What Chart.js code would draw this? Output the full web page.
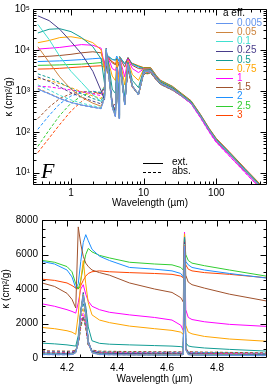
<!DOCTYPE html>
<html><head><meta charset="utf-8">
<script src="https://cdn.jsdelivr.net/npm/chart.js@4.4.1/dist/chart.umd.min.js"></script>
<style>
html,body{margin:0;padding:0;background:#fff;width:274px;height:387px;overflow:hidden}
#c1{position:absolute;left:0;top:0;width:274px;height:210px}
#c2{position:absolute;left:0;top:210px;width:274px;height:177px}
</style></head><body>
<canvas id="c1" width="274" height="210"></canvas>
<canvas id="c2" width="274" height="177"></canvas>
<script>
// ---------- data ----------
const sizeLabels = ['0.005','0.05','0.1','0.25','0.5','0.75','1','1.5','2','2.5','3'];
const colors = ['#6495ED','#CD853F','#40E0D0','#483D8B','#119C94','#FFA500','#FF00FF','#A0522D','#1E90FF','#32CD32','#FF4500'];

// top panel: wavelength grid (µm)
const waveTop = [0.35,0.5,0.7,1.0,1.4,2.0,2.6,2.9,3.05,3.3,3.7,4.1,4.27,4.6,4.67,5.5,6.1,7.0,8.5,10,12.5,15,17,25,33,45,60,80,100,150,250,400,500];

// extinction (solid)
const ext_0005 = [1100,850,650,520,450,400,370,700,10000,2500,400,230,3600,210,6000,450,4500,1300,800,2900,3100,2000,1550,1100,780,510,245,108,62,29.5,11.3,4.7,3.1];
const ext_005  = [12000,5000,2200,1100,700,500,420,680,10000,2550,410,235,3650,215,6100,455,4550,1310,805,2920,3120,2010,1560,1110,785,512,246,109,62,29.6,11.3,4.7,3.1];
const ext_01   = [42000,18000,7000,3000,1600,800,550,650,10500,2800,450,250,3700,225,6200,460,4600,1320,810,2950,3150,2030,1570,1120,790,515,248,110,62.5,29.8,11.4,4.75,3.1];
const ext_025  = [68000,52000,32000,16000,8000,3000,1000,600,11000,3200,520,290,3800,250,6300,480,4700,1350,830,3000,3200,2050,1590,1140,800,520,250,111,63,30,11.5,4.8,3.2];
const ext_05   = [26000,32000,33000,28000,20000,12000,6000,1500,10000,4500,1100,860,3500,700,6200,700,5000,1800,1200,3200,3300,2100,1650,1180,820,530,255,112,63.5,30.2,11.6,4.8,3.2];
const ext_075  = [15000,17000,20000,21000,19000,15000,10000,3000,9000,5000,2300,1770,5600,1650,6500,1400,5500,2500,1800,3400,3400,2150,1700,1200,830,535,255,112,63,30,11.5,4.7,3.1];
const ext_1    = [10500,11000,11500,12500,13500,13000,11000,4000,8000,6000,3500,3140,4200,2250,6500,2200,6000,3500,2800,3400,3350,2150,1650,1150,780,490,230,100,56,26.5,10.2,4.2,2.8];
const ext_15   = [6800,7000,7300,7800,8500,9000,8500,4500,7500,6500,4800,4350,6000,3900,6500,3800,6500,4200,3500,3400,3400,2200,1700,1200,820,530,255,112,63,30,11.5,4.8,3.2];
const ext_2    = [5200,5300,5400,5600,5800,6100,6300,4200,7000,7000,5800,5600,7100,5100,6800,4500,6500,4500,3800,3500,3500,2250,1750,1230,840,545,262,115,65,31,11.9,4.95,3.3];
const ext_25   = [4200,4250,4300,4400,4500,4700,4900,4000,6500,6800,5900,5660,6300,5400,6900,4600,6200,4600,4000,3600,3600,2300,1780,1260,860,560,268,118,67,32,12.2,5.1,3.4];
const ext_3    = [3400,3450,3550,3700,3850,4000,4100,3800,6000,6000,5200,4570,4800,4850,6700,4600,6000,4700,4100,3700,3700,2350,1820,1290,880,575,275,121,69,33,12.6,5.3,3.5];

// absorption (dashed)
const abs_0005 = [1080,840,640,515,445,395,365,690,9900,2480,395,228,3580,208,5950,445,4480,1290,795,2890,3090,1990,1545,1095,778,509,244,108,62,29.5,11.3,4.7,3.1];
const abs_005  = [1150,870,660,525,450,400,370,690,9900,2500,400,230,3600,210,6000,450,4500,1300,800,2900,3100,2000,1550,1100,780,510,245,108,62,29.5,11.3,4.7,3.1];
const abs_01   = [1400,1050,780,600,500,430,390,700,9500,2600,420,240,3600,215,6000,450,4500,1300,800,2900,3100,2000,1550,1100,780,510,245,108,62,29.5,11.3,4.7,3.1];
const abs_025  = [2200,1700,1250,900,700,560,480,800,8500,2800,450,260,3500,230,5800,460,4400,1300,800,2850,3050,1980,1540,1100,780,510,245,108,62,29.5,11.3,4.7,3.1];
const abs_05   = [2600,2100,1600,1150,850,650,560,900,7000,2900,470,280,3000,250,5500,480,4200,1300,800,2800,3000,1950,1520,1090,775,508,244,108,62,29.5,11.3,4.7,3.1];
const abs_075  = [2000,1800,1500,1200,950,750,650,1000,6000,2900,480,300,2700,270,5300,490,4000,1280,800,2750,2950,1930,1500,1080,770,505,243,107,61,29,11.1,4.6,3.0];
const abs_1    = [1300,1250,1150,1050,950,850,760,1100,5000,2800,480,320,2400,290,5000,500,3800,1260,800,2700,2900,1900,1480,1060,750,480,225,98,55,26,10,4.15,2.75];
const abs_15   = [210,400,650,850,950,950,850,1200,4500,2700,480,450,2300,330,4800,520,3600,1250,800,2650,2850,1880,1470,1050,760,500,242,107,61,29,11.1,4.6,3.0];
const abs_2    = [115,250,480,750,900,980,900,1250,4200,2600,470,320,2500,310,4700,510,3500,1240,800,2600,2800,1860,1460,1045,755,498,241,107,61,29,11.1,4.6,3.0];
const abs_25   = [44,110,250,500,750,950,920,1300,4000,2500,460,330,2600,300,4600,500,3400,1230,800,2550,2750,1840,1450,1040,752,496,240,107,61,29,11.1,4.6,3.0];
const abs_3    = [31,70,150,320,550,850,900,1300,3800,2400,450,350,2700,290,4500,500,3300,1220,800,2500,2700,1820,1440,1035,750,495,240,107,61,29,11.1,4.6,3.0];

// bottom panel: wavelength grid (µm)
const waveBot = [4.10,4.15,4.20,4.22,4.235,4.245,4.255,4.265,4.275,4.285,4.30,4.33,4.37,4.45,4.55,4.62,4.655,4.665,4.670,4.675,4.685,4.70,4.75,4.85,5.00];

const bext_0005 = [200,195,190,200,300,900,2600,3600,2600,900,300,200,190,180,170,165,170,200,6500,500,200,170,160,150,140];
const bext_005  = [210,205,200,210,310,920,2620,3650,2620,910,310,210,200,190,180,175,180,210,6550,510,210,180,170,160,150];
const bext_01   = [230,225,215,225,330,950,2650,3700,2650,930,330,225,215,205,195,190,195,225,6600,520,225,195,185,175,160];
const bext_025  = [290,280,270,280,380,1000,2750,3800,2750,1000,380,280,270,255,240,235,235,250,6700,560,270,240,225,210,190];
const bext_05   = [860,820,760,720,690,1300,2800,3500,3000,1800,1000,850,800,760,720,690,660,620,7000,900,700,650,580,500,400];
const bext_075  = [1770,1700,1580,1500,1370,2500,4500,5650,4300,3200,2500,2200,2050,1850,1700,1600,1500,1370,7200,1900,1500,1400,1250,1100,970];
const bext_1    = [3140,3000,2800,2700,2600,3200,4000,4250,3700,3300,3000,2800,2650,2500,2350,2200,1900,1600,7300,2800,2350,2230,2100,1950,1830];
const bext_15   = [4350,4150,3750,3400,2900,7600,6600,5900,5500,5300,5100,4950,4800,4350,4000,3800,3500,3250,7300,4800,4400,4250,4050,3700,3300];
const bext_2    = [5600,5450,5100,4700,4050,4300,5600,6700,7150,6800,6300,5900,5650,5250,5150,5050,4900,4700,7000,5600,5400,5250,5100,4900,4630];
const bext_25   = [5660,5550,5300,5000,4300,4000,4500,5300,6000,6350,6150,5950,5800,5550,5450,5400,5250,5100,7100,6000,5650,5500,5350,5100,4740];
const bext_3    = [4570,4500,4350,4200,4050,4000,4200,4500,4750,4900,5000,5050,5000,4950,4900,4850,4750,4650,6900,5400,5150,5050,4950,4850,4650];

const babs_0005 = [195,190,185,195,295,890,2580,3580,2580,890,295,195,185,175,165,160,165,195,6450,495,195,165,155,145,135];
const babs_005  = [205,200,195,205,305,910,2600,3620,2600,900,305,205,195,185,175,170,175,205,6500,505,205,175,165,155,145];
const babs_01   = [225,220,210,220,325,940,2600,3600,2600,920,325,220,210,200,190,185,190,220,6400,515,220,190,180,170,155];
const babs_025  = [270,262,252,260,360,980,2650,3500,2600,960,360,262,252,240,228,222,222,238,6200,540,255,228,215,200,182];
const babs_05   = [260,255,245,250,340,950,2500,3200,2400,900,340,250,240,230,220,215,215,230,6000,500,240,220,210,200,180];
const babs_075  = [300,295,285,285,370,950,2300,2900,2200,850,370,285,275,265,255,250,250,260,5500,520,270,250,240,225,205];
const babs_1    = [330,325,315,315,390,900,2100,2600,2000,800,390,315,305,295,285,280,280,290,5200,540,300,280,265,250,230];
const babs_15   = [420,410,400,400,460,850,1900,2400,1800,760,460,400,390,375,365,360,360,370,4800,580,380,360,345,325,300];
const babs_2    = [390,380,370,370,430,820,1850,2400,1850,780,430,370,360,350,340,335,335,345,4700,560,355,335,320,300,280];
const babs_25   = [360,350,340,340,400,800,1800,2400,1850,780,400,340,330,320,310,305,305,315,4600,540,325,305,295,280,260];
const babs_3    = [330,325,315,315,380,780,1750,2350,1800,760,380,315,305,295,285,280,280,290,4500,520,300,280,270,255,240];

// ticks
const topXMajor = [1,10,100];
const topXLabels = ['1','10','100'];
const topXMinor = [0.3,0.4,0.5,0.6,0.7,0.8,0.9,2,3,4,5,6,7,8,9,20,30,40,50,60,70,80,90,200,300,400,500];
const topYMajor = [10,100,1000,10000,100000];
const topYLabels = ['10\u00B9','10\u00B2','10\u00B3','10\u2074','10\u2075'];
const topYMinor = [6,7,8,9,20,30,40,50,60,70,80,90,200,300,400,500,600,700,800,900,2000,3000,4000,5000,6000,7000,8000,9000,20000,30000,40000,50000,60000,70000,80000,90000];
const botXMajor = [4.2,4.4,4.6,4.8];
const botXLabels = ['4.2','4.4','4.6','4.8'];
const botXMinor = [4.1,4.15,4.25,4.3,4.35,4.45,4.5,4.55,4.65,4.7,4.75,4.85,4.9,4.95];
const botYMajor = [0,2000,4000,6000,8000];
const botYLabels = ['0','2000','4000','6000','8000'];
const botYMinor = [500,1000,1500,2500,3000,3500,4500,5000,5500,6500,7000,7500];

// ---------- build ----------
const FONT = '"Liberation Sans", Arial, Helvetica, sans-serif';
Chart.defaults.font.family = FONT;
Chart.defaults.font.size = 10;
Chart.defaults.color = '#000';

const topExt = [ext_0005,ext_005,ext_01,ext_025,ext_05,ext_075,ext_1,ext_15,ext_2,ext_25,ext_3];
const topAbs = [abs_0005,abs_005,abs_01,abs_025,abs_05,abs_075,abs_1,abs_15,abs_2,abs_25,abs_3];
const botExt = [bext_0005,bext_005,bext_01,bext_025,bext_05,bext_075,bext_1,bext_15,bext_2,bext_25,bext_3];
const botAbs = [babs_0005,babs_005,babs_01,babs_025,babs_05,babs_075,babs_1,babs_15,babs_2,babs_25,babs_3];

function pts(xs, ys){ return xs.map((x,i)=>({x:x, y:ys[i]})); }
function makeSets(xs, extArr, absArr){
  const sets = [];
  extArr.forEach((ys,i)=>sets.push({label:sizeLabels[i]+' ext', data:pts(xs,ys), borderColor:colors[i], backgroundColor:colors[i], borderWidth:1, pointRadius:0, showLine:true, fill:false, tension:0}));
  absArr.forEach((ys,i)=>sets.push({label:sizeLabels[i]+' abs', data:pts(xs,ys), borderColor:colors[i], backgroundColor:colors[i], borderWidth:1, borderDash:[3,2], pointRadius:0, showLine:true, fill:false, tension:0}));
  return sets;
}

function tickPlugin(xMaj, xMin, yMaj, yMin){
  return {id:'frameTicks', afterDraw(chart){
    const ctx = chart.ctx, a = chart.chartArea, sx = chart.scales.x, sy = chart.scales.y;
    const L = Math.round(a.left)+0.5, R = Math.round(a.right)-0.5, T = Math.round(a.top)+0.5, B = Math.round(a.bottom)-0.5;
    ctx.save();
    ctx.strokeStyle = '#000'; ctx.lineWidth = 1;
    ctx.beginPath(); ctx.rect(L, T, R-L, B-T); ctx.stroke();
    ctx.beginPath();
    const xt = (v,len)=>{ const p = Math.round(sx.getPixelForValue(v))+0.5; if(p<L-0.1||p>R+0.1) return; ctx.moveTo(p,B); ctx.lineTo(p,B-len); ctx.moveTo(p,T); ctx.lineTo(p,T+len); };
    const yt = (v,len)=>{ const p = Math.round(sy.getPixelForValue(v))+0.5; if(p<T-0.1||p>B+0.1) return; ctx.moveTo(L,p); ctx.lineTo(L+len,p); ctx.moveTo(R,p); ctx.lineTo(R-len,p); };
    xMaj.forEach(v=>xt(v,6)); xMin.forEach(v=>xt(v,3));
    yMaj.forEach(v=>yt(v,6)); yMin.forEach(v=>yt(v,3));
    ctx.stroke();
    ctx.restore();
  }};
}

const topDecor = {id:'topDecor', afterDraw(chart){
  const ctx = chart.ctx;
  ctx.save();
  ctx.font = '10px ' + FONT;
  ctx.textBaseline = 'middle'; ctx.textAlign = 'left';
  ctx.fillStyle = '#000';
  ctx.fillText('a eff.', 223, 13);
  sizeLabels.forEach((s,i)=>{
    const y = 23 + i*9.2;
    const yl = Math.round(y)+0.5;
    ctx.strokeStyle = colors[i]; ctx.lineWidth = 1;
    ctx.beginPath(); ctx.moveTo(216, yl); ctx.lineTo(233, yl); ctx.stroke();
    ctx.fillStyle = colors[i];
    ctx.fillText(s, 237, y);
  });
  ctx.strokeStyle = '#000'; ctx.fillStyle = '#000';
  ctx.beginPath(); ctx.moveTo(143, 163.5); ctx.lineTo(163, 163.5); ctx.stroke();
  ctx.setLineDash([3,2]);
  ctx.beginPath(); ctx.moveTo(143, 172.5); ctx.lineTo(163, 172.5); ctx.stroke();
  ctx.setLineDash([]);
  ctx.fillText('ext.', 172, 162);
  ctx.fillText('abs.', 172, 171);
  ctx.font = 'italic 22px "Liberation Serif", "DejaVu Serif", serif';
  ctx.textBaseline = 'alphabetic';
  ctx.fillText('F', 41, 178);
  ctx.restore();
}};

new Chart(document.getElementById('c1'), {
  type: 'scatter',
  data: {datasets: makeSets(waveTop, topExt, topAbs)},
  options: {
    responsive:false, animation:false, devicePixelRatio:1,
    layout:{padding:{top:3,right:7,left:0,bottom:0}},
    plugins:{legend:{display:false}, tooltip:{enabled:false}},
    scales:{
      x:{type:'logarithmic', min:0.3, max:500, bounds:'data',
         grid:{display:false, drawTicks:false}, border:{display:false},
         afterBuildTicks:s=>{ s.ticks = topXMajor.map(v=>({value:v})); },
         afterFit:s=>{ s.height = 25; },
         ticks:{autoSkip:false, maxRotation:0, padding:2, callback:(v,i)=>topXLabels[i]},
         title:{display:true, text:'Wavelength (\u00B5m)', padding:{top:0,bottom:1}}},
      y:{type:'logarithmic', min:5, max:100000, bounds:'data',
         grid:{display:false, drawTicks:false}, border:{display:false},
         afterBuildTicks:s=>{ s.ticks = topYMajor.map(v=>({value:v})); },
         afterFit:s=>{ s.width = 33; },
         ticks:{autoSkip:false, padding:3, callback:(v,i)=>topYLabels[i]},
         title:{display:true, text:'\u03BA (cm\u00B2/g)', padding:{top:3,bottom:0}}}
    }
  },
  plugins:[tickPlugin(topXMajor, topXMinor, topYMajor, topYMinor), topDecor]
});

new Chart(document.getElementById('c2'), {
  type: 'scatter',
  data: {datasets: makeSets(waveBot, botExt, botAbs)},
  options: {
    responsive:false, animation:false, devicePixelRatio:1,
    layout:{padding:{top:7,right:7,left:0,bottom:0}},
    plugins:{legend:{display:false}, tooltip:{enabled:false}},
    scales:{
      x:{type:'linear', min:4.1, max:5.0, bounds:'data',
         grid:{display:false, drawTicks:false}, border:{display:false},
         afterBuildTicks:s=>{ s.ticks = botXMajor.map(v=>({value:v})); },
         afterFit:s=>{ s.height = 29; },
         ticks:{autoSkip:false, maxRotation:0, padding:4, callback:(v,i)=>botXLabels[i]},
         title:{display:true, text:'Wavelength (\u00B5m)', padding:{top:0,bottom:2}}},
      y:{type:'linear', min:0, max:8000, bounds:'data',
         grid:{display:false, drawTicks:false}, border:{display:false},
         afterBuildTicks:s=>{ s.ticks = botYMajor.map(v=>({value:v})); },
         afterFit:s=>{ s.width = 42; },
         ticks:{autoSkip:false, padding:4, callback:(v,i)=>botYLabels[i]},
         title:{display:true, text:'\u03BA (cm\u00B2/g)', padding:{top:0,bottom:0}}}
    }
  },
  plugins:[tickPlugin(botXMajor, botXMinor, botYMajor, botYMinor)]
});
</script>
</body></html>
